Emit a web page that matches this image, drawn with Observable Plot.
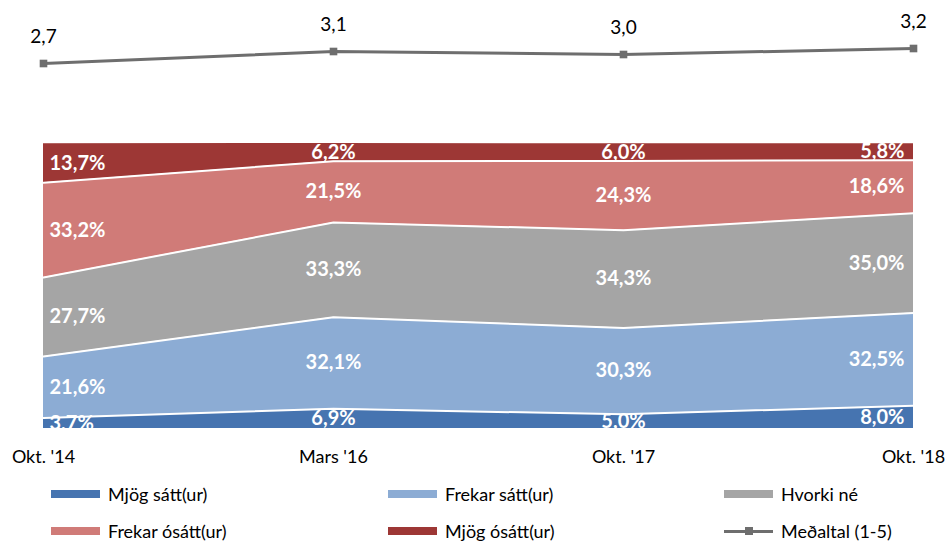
<!DOCTYPE html>
<html>
<head>
<meta charset="utf-8">
<script src="https://cdn.jsdelivr.net/npm/d3@7"></script>
<script src="https://cdn.jsdelivr.net/npm/@observablehq/plot@0.6"></script>
<style>
  html, body { margin: 0; padding: 0; background: #fff; }
  #wrap { position: relative; width: 949px; height: 542px; font-family: Lato, "Open Sans", sans-serif; overflow: hidden; }
  #topchart, #mainchart { position: absolute; left: 0; }
  #topchart { top: 0; }
  #mainchart { top: 140px; }
  .leg { position: absolute; display: flex; align-items: center; font-size: 18px; color: #000; white-space: nowrap; }
  .sw { width: 49px; height: 8px; margin-right: 8px; }
  .lsw { position: relative; width: 49px; height: 8px; margin-right: 8px; }
  .lsw .ln { position: absolute; left: 0; right: 0; top: 3px; height: 3px; background: #6e6e6e; }
  .lsw .mk { position: absolute; left: 21px; top: 0; width: 8px; height: 8px; background: #6e6e6e; }
</style>
</head>
<body>
<div id="wrap">
  <div id="topchart"></div>
  <div id="mainchart"></div>
  <div id="legend"></div>
</div>
<script>
const periods = ["Okt. '14", "Mars '16", "Okt. '17", "Okt. '18"];
const categories = ["Mjög sátt(ur)", "Frekar sátt(ur)", "Hvorki né", "Frekar ósátt(ur)", "Mjög ósátt(ur)"];
const mjogSatt    = [3.7, 6.9, 5.0, 8.0];
const frekarSatt  = [21.6, 32.1, 30.3, 32.5];
const hvorkiNe    = [27.7, 33.3, 34.3, 35.0];
const frekarOsatt = [33.2, 21.5, 24.3, 18.6];
const mjogOsatt   = [13.7, 6.2, 6.0, 5.8];
const medaltal    = [2.7, 3.1, 3.0, 3.2];
const lineLabel = "Meðaltal (1-5)";
const colors = ["#4674b0", "#8cacd4", "#a5a5a5", "#d07b78", "#9d3735"];

const series = [mjogSatt, frekarSatt, hvorkiNe, frekarOsatt, mjogOsatt];
const data = [];
categories.forEach((c, ci) => periods.forEach((p, pi) => data.push({period: p, category: c, value: series[ci][pi]})));
const meanData = periods.map((p, i) => ({period: p, value: medaltal[i]}));
const fmt = v => v.toFixed(1).replace(".", ",");

const xScale = {type: "point", domain: periods, range: [42, 913], padding: 0};

// Top: mean line
const topPlot = Plot.plot({
  width: 949, height: 140,
  x: {...xScale, axis: null},
  y: {domain: [2.7, 3.2], range: [63, 48], axis: null},
  style: {fontFamily: "Lato, 'Open Sans', sans-serif", background: "transparent", overflow: "visible"},
  marks: [
    Plot.line(meanData, {x: "period", y: "value", stroke: "#6e6e6e", strokeWidth: 3}),
    Plot.dot(meanData, {x: "period", y: "value", symbol: "square", r: 4.3, fill: "#6e6e6e"}),
    Plot.text(meanData, {x: "period", y: "value", text: d => fmt(d.value), dy: -27, fontSize: 19, fill: "#000"})
  ]
});
document.getElementById("topchart").appendChild(topPlot);

// Main: stacked area
const stackOpts = {x: "period", y: "value", z: "category", order: categories};
const lbl = (filter, anchor, dx) => Plot.text(data.filter(d => filter(d.period)), Plot.stackY({
  ...stackOpts, text: d => fmt(d.value) + "%", textAnchor: anchor, dx,
  fill: "#fff", fontSize: 20, fontWeight: "bold", clip: true
}));

const mainPlot = Plot.plot({
  width: 949, height: 330,
  marginTop: 3, marginBottom: 42,
  x: {...xScale, label: null},
  y: {domain: [0, 100], axis: null},
  color: {domain: categories, range: colors},
  style: {fontFamily: "Lato, 'Open Sans', sans-serif", fontSize: "18px", color: "#000", background: "transparent", overflow: "visible"},
  marks: [
    Plot.areaY(data, Plot.stackY({...stackOpts, fill: "category"})),
    Plot.lineY(data.filter(d => d.category !== categories[categories.length - 1]),
      Plot.stackY2({...stackOpts, order: categories.slice(0, -1), stroke: "#fff", strokeWidth: 2})),
    lbl(p => p === periods[0], "start", 6),
    lbl(p => p !== periods[0] && p !== periods[periods.length - 1], "middle", 0),
    lbl(p => p === periods[periods.length - 1], "end", -9),
    Plot.axisX({tickSize: 0, tickPadding: 22, fontSize: 18, fontWeight: "normal", fill: "#000", stroke: "none", label: null})
  ]
});
document.getElementById("mainchart").appendChild(mainPlot);

// Legend
const legend = document.getElementById("legend");
const cols = [51, 388, 724];
const rows = [494, 531];
const items = categories.map((c, i) => ({label: c, color: colors[i]})).concat([{label: lineLabel, line: true}]);
items.forEach((it, i) => {
  const div = document.createElement("div");
  div.className = "leg";
  div.style.left = cols[i % 3] + "px";
  div.style.top = (rows[Math.floor(i / 3)] - 12) + "px";
  div.style.height = "24px";
  if (it.line) {
    div.innerHTML = `<span class="lsw"><span class="ln"></span><span class="mk"></span></span><span>${it.label}</span>`;
  } else {
    div.innerHTML = `<span class="sw" style="background:${it.color}"></span><span>${it.label}</span>`;
  }
  legend.appendChild(div);
});
</script>
</body>
</html>
